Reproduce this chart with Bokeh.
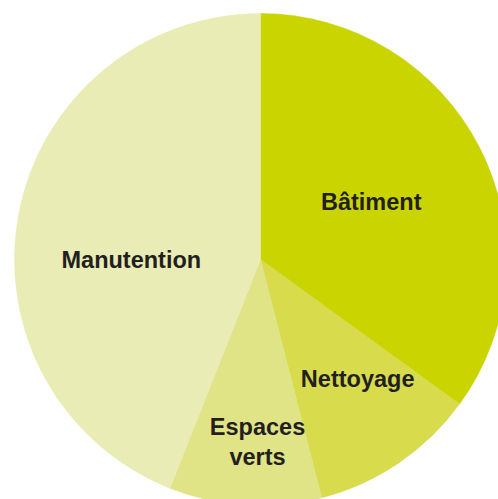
import math
from bokeh.plotting import figure
from bokeh.models import ColumnDataSource, Range1d
from bokeh.core.properties import value
from bokeh.embed import file_html
from bokeh.resources import INLINE

categories = ["Bâtiment", "Nettoyage", "Espaces verts", "Manutention"]
values = [35, 11, 10, 44]
colors = ["#c9d400", "#d7db4c", "#e0e386", "#e9ecb5"]
# label anchors, relative to pie centre (fraction of radius): (dx, dy)
label_lines = [["Bâtiment"], ["Nettoyage"], ["Espaces", "verts"], ["Manutention"]]
label_offsets = [(0.45, 0.235), (0.395, -0.485), (-0.012, -0.74), (-0.525, 0.0)]

W, H = 498, 499
cx, cy, R = 260, H - 259, 246

p = figure(width=W, height=H, output_backend="svg", toolbar_location=None,
           x_range=Range1d(0, W), y_range=Range1d(0, H), min_border=0)
p.axis.visible = False
p.grid.visible = False
p.outline_line_color = None
p.background_fill_color = "white"

total = sum(values)
starts, ends = [], []
acc = 0
for v in values:
    a0 = math.pi / 2 - 2 * math.pi * acc / total
    acc += v
    a1 = math.pi / 2 - 2 * math.pi * acc / total
    starts.append(a0)
    ends.append(a1)

src = ColumnDataSource(dict(x=[cx] * 4, y=[cy] * 4, start=starts, end=ends, color=colors))
p.wedge(x="x", y="y", radius=R, start_angle="start", end_angle="end",
        direction="clock", fill_color="color", line_color="color", line_width=0.5,
        source=src)

tx, ty, tt = [], [], []
lh = 30
for lines, (dx, dy) in zip(label_lines, label_offsets):
    n = len(lines)
    for i, ln in enumerate(lines):
        tx.append(cx + dx * R)
        ty.append(cy + dy * R + (n - 1) * lh / 2 - i * lh)
        tt.append(ln)
p.text(x=tx, y=ty, text=tt, text_font=value("Liberation Sans"), text_font_style="bold",
       text_font_size="23.5px", text_color="#231f20", text_align="center",
       text_baseline="middle")

open("out.html", "w").write(file_html(p, INLINE))
